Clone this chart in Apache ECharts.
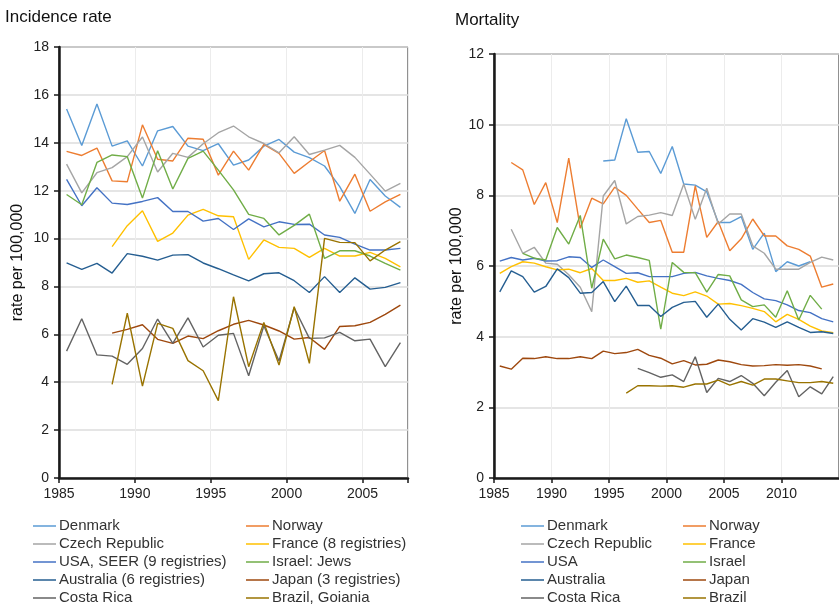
<!DOCTYPE html>
<html><head><meta charset="utf-8">
<script src="https://cdn.jsdelivr.net/npm/echarts@6/dist/echarts.min.js"></script>
<style>html,body{margin:0;padding:0;background:#fff}#c{width:839px;height:608px}</style>
</head><body><div id="c"></div>
<script>
// ---------- DATA ----------
const incYears = [1985,1986,1987,1988,1989,1990,1991,1992,1993,1994,1995,1996,1997,1998,1999,2000,2001,2002,2003,2004,2005,2006,2007];
const incNames = ['Denmark','Norway','Czech Republic','France (8 registries)','USA, SEER (9 registries)','Israel: Jews','Australia (6 registries)','Japan (3 registries)','Costa Rica','Brazil, Goiania'];
const incDenmark   = [15.41,13.89,15.62,13.86,14.08,13.03,14.5,14.68,13.86,13.67,13.96,13.07,13.28,13.86,14.14,13.61,13.38,13.03,12.17,11.05,12.47,11.78,11.3];
const incNorway    = [13.64,13.47,13.78,12.41,12.37,14.75,13.31,13.24,14.19,14.15,12.65,13.65,12.86,13.93,13.56,12.72,13.21,13.68,11.56,12.69,11.14,11.53,11.85];
const incCzech     = [13.11,11.91,12.75,12.96,13.42,14.24,12.78,13.56,13.39,13.96,14.42,14.7,14.25,13.97,13.58,14.25,13.51,13.69,13.89,13.39,12.69,11.98,12.3];
const incFrance    = [null,null,null,9.66,10.54,11.16,9.88,10.23,10.98,11.22,10.95,10.91,9.13,9.94,9.63,9.59,9.21,9.59,9.27,9.27,9.42,9.17,8.82];
const incUSA       = [12.47,11.37,12.12,11.48,11.42,11.55,11.71,11.13,11.13,10.73,10.84,10.38,10.82,10.49,10.7,10.59,10.6,10.15,10.05,9.77,9.52,9.52,9.59];
const incIsrael    = [11.84,11.41,13.18,13.49,13.42,11.69,13.67,12.07,13.35,13.65,12.86,12.03,11.01,10.84,10.15,10.55,11.02,9.17,9.49,9.49,9.27,8.96,8.68];
const incAustralia = [8.98,8.71,8.96,8.56,9.37,9.26,9.1,9.31,9.33,8.98,8.74,8.48,8.23,8.53,8.57,8.24,7.75,8.41,7.75,8.36,7.89,7.96,8.16];
const incJapan     = [null,null,null,6.05,6.21,6.4,5.79,5.62,5.93,5.82,6.15,6.42,6.58,6.39,6.14,5.8,5.87,5.37,6.33,6.36,6.5,6.83,7.22];
const incCostaRica = [5.3,6.65,5.14,5.09,4.75,5.41,6.64,5.62,6.69,5.47,5.96,6.04,4.27,6.36,4.89,7.11,5.83,5.85,6.08,5.73,5.8,4.65,5.65];
const incBrazil    = [null,null,null,3.91,6.88,3.84,6.46,6.25,4.9,4.48,3.23,7.57,4.65,6.5,4.72,7.15,4.79,10.01,9.84,9.83,9.07,9.52,9.87];

const morYears = [1985,1986,1987,1988,1989,1990,1991,1992,1993,1994,1995,1996,1997,1998,1999,2000,2001,2002,2003,2004,2005,2006,2007,2008,2009,2010,2011,2012,2013,2014];
const morNames = ['Denmark','Norway','Czech Republic','France','USA','Israel','Australia','Japan','Costa Rica','Brazil'];
const morDenmark   = [null,null,null,null,null,null,null,null,null,8.97,9.0,10.17,9.22,9.24,8.62,9.38,8.32,8.29,8.1,7.23,7.23,7.4,6.47,6.93,5.84,6.12,6.0,6.12,null,null];
const morNorway    = [null,8.93,8.72,7.74,8.36,7.23,9.05,7.07,7.92,7.76,8.23,8.0,7.61,7.23,7.29,6.39,6.39,8.27,6.81,7.26,6.43,6.77,7.33,6.85,6.85,6.57,6.47,6.28,5.4,5.49];
const morCzech     = [null,7.04,6.36,6.53,6.08,6.05,5.75,5.4,4.71,7.98,8.42,7.19,7.4,7.44,7.51,7.43,8.32,7.32,8.2,7.19,7.47,7.47,6.57,6.36,5.91,5.91,5.91,6.1,6.25,6.17];
const morFrance    = [5.79,5.98,6.12,6.08,5.98,5.89,5.91,5.81,5.93,5.59,5.59,5.65,5.54,5.58,5.4,5.23,5.16,5.27,5.15,4.92,4.94,4.88,4.8,4.71,4.42,4.63,4.49,4.3,4.16,4.11];
const morUSA       = [6.14,6.24,6.17,6.22,6.14,6.15,6.26,6.24,5.96,6.17,5.98,5.79,5.81,5.7,5.7,5.7,5.79,5.82,5.72,5.65,5.59,5.48,5.25,5.07,5.02,4.9,4.74,4.68,4.51,4.42];
const morIsrael    = [null,null,6.36,6.22,6.17,7.09,6.62,7.43,5.37,6.76,6.2,6.31,6.24,6.16,4.21,6.1,5.82,5.81,5.26,5.76,5.72,5.04,4.85,4.9,4.55,5.3,4.47,5.17,4.78,null];
const morAustralia = [5.27,5.86,5.7,5.26,5.42,5.92,5.67,5.23,5.25,5.56,4.99,5.43,4.88,4.88,4.57,4.83,4.97,5.0,4.55,4.92,4.49,4.19,4.51,4.41,4.26,4.42,4.26,4.12,4.14,4.09];
const morJapan     = [3.17,3.08,3.39,3.38,3.43,3.38,3.38,3.43,3.38,3.59,3.52,3.55,3.64,3.47,3.39,3.23,3.32,3.2,3.22,3.34,3.29,3.21,3.17,3.18,3.21,3.19,3.21,3.17,3.09,null];
const morCostaRica = [null,null,null,null,null,null,null,null,null,null,null,null,3.1,2.98,2.85,2.92,2.73,3.43,2.42,2.82,2.73,2.9,2.68,2.33,2.71,3.04,2.3,2.58,2.38,2.87];
const morBrazil    = [null,null,null,null,null,null,null,null,null,null,null,2.4,2.61,2.61,2.6,2.61,2.57,2.66,2.66,2.77,2.63,2.73,2.63,2.8,2.8,2.75,2.7,2.7,2.73,2.68];

const colors = ['#5B9BD5','#ED7D31','#A5A5A5','#FFC000','#4472C4','#70AD47','#255E91','#9E480E','#636363','#997300'];

// ---------- BUILD ----------
const incData = [incDenmark,incNorway,incCzech,incFrance,incUSA,incIsrael,incAustralia,incJapan,incCostaRica,incBrazil];
const morData = [morDenmark,morNorway,morCzech,morFrance,morUSA,morIsrael,morAustralia,morJapan,morCostaRica,morBrazil];
// annual rates are plotted at mid-year
const pairs = (years, vals) => years.map((y,i) => [y + 0.5, vals[i]]);

const FONT = '"Liberation Sans", Arial, sans-serif';
const series = [];
incData.forEach((d,i) => series.push({
  name: incNames[i], type: 'line', xAxisIndex: 0, yAxisIndex: 0, data: pairs(incYears, d),
  symbol: 'none', connectNulls: false, lineStyle: {width: 1.4, color: colors[i]}, itemStyle: {color: colors[i]},
  emphasis: {disabled: true}, z: 3
}));
morData.forEach((d,i) => series.push({
  name: morNames[i], type: 'line', xAxisIndex: 1, yAxisIndex: 1, data: pairs(morYears, d),
  symbol: 'none', connectNulls: false, lineStyle: {width: 1.4, color: colors[i]}, itemStyle: {color: colors[i]},
  emphasis: {disabled: true}, z: 3
}));

function xAx(grid, min, max) {
  return {
    type: 'value', gridIndex: grid, min: min, max: max, interval: 5,
    axisLine: {show: true, lineStyle: {color: '#1a1a1a', width: 2.5}},
    axisTick: {show: true, length: 5, lineStyle: {color: '#1a1a1a', width: 1.5}},
    axisLabel: {color: '#222', fontSize: 14, fontFamily: FONT, margin: 9,
      formatter: v => (v % 5 === 0 && v < max ? String(v) : '')},
    splitLine: {show: true, lineStyle: {color: '#ececec', width: 1}}
  };
}
function yAx(grid, max, gap) {
  return {
    type: 'value', gridIndex: grid, min: 0, max: max, interval: 2,
    name: 'rate per 100,000', nameLocation: 'middle', nameGap: gap, nameRotate: 90,
    nameTextStyle: {color: '#111', fontSize: 16, fontFamily: FONT},
    axisLine: {show: true, lineStyle: {color: '#1a1a1a', width: 2.5}},
    axisTick: {show: true, length: 5, lineStyle: {color: '#1a1a1a', width: 1.5}},
    axisLabel: {color: '#222', fontSize: 14, fontFamily: FONT, margin: 10},
    splitLine: {show: true, lineStyle: {color: '#dcdcdc', width: 1.5}}
  };
}
function legend(left, top, names) {
  return {
    left: left, top: top, orient: 'vertical', data: names,
    icon: 'rect', itemWidth: 23, itemHeight: 1.5, itemGap: 2,
    textStyle: {color: '#333', fontSize: 15, fontFamily: FONT, lineHeight: 16, padding: [0,0,0,-2]},
    selectedMode: false, padding: 0
  };
}

const option = {
  animation: false,
  color: colors,
  title: [
    {text: 'Incidence rate', left: 5, top: 9, padding: 0, textStyle: {fontSize: 17, fontWeight: 'normal', color: '#111', fontFamily: FONT}},
    {text: 'Mortality', left: 455, top: 12, padding: 0, textStyle: {fontSize: 17, fontWeight: 'normal', color: '#111', fontFamily: FONT}}
  ],
  grid: [
    {left: 59, top: 47, width: 349, height: 431, show: true, borderColor: '#222', borderWidth: 1, backgroundColor: 'transparent'},
    {left: 494, top: 54, width: 352, height: 424, show: true, borderColor: '#222', borderWidth: 1, backgroundColor: 'transparent'}
  ],
  xAxis: [xAx(0, 1985, 2008), xAx(1, 1985, 2015)],
  yAxis: [yAx(0, 18, 33), yAx(1, 12, 20)],
  legend: [
    legend(33, 518, incNames.filter((n,i) => i % 2 === 0)),
    legend(246, 518, incNames.filter((n,i) => i % 2 === 1)),
    legend(521, 518, morNames.filter((n,i) => i % 2 === 0)),
    legend(683, 518, morNames.filter((n,i) => i % 2 === 1))
  ],
  series: series
};
option.xAxis[1].axisLabel.showMaxLabel = false;

const chart = echarts.init(document.getElementById('c'), null, {renderer: 'canvas'});
chart.setOption(option);
</script>
</body></html>
